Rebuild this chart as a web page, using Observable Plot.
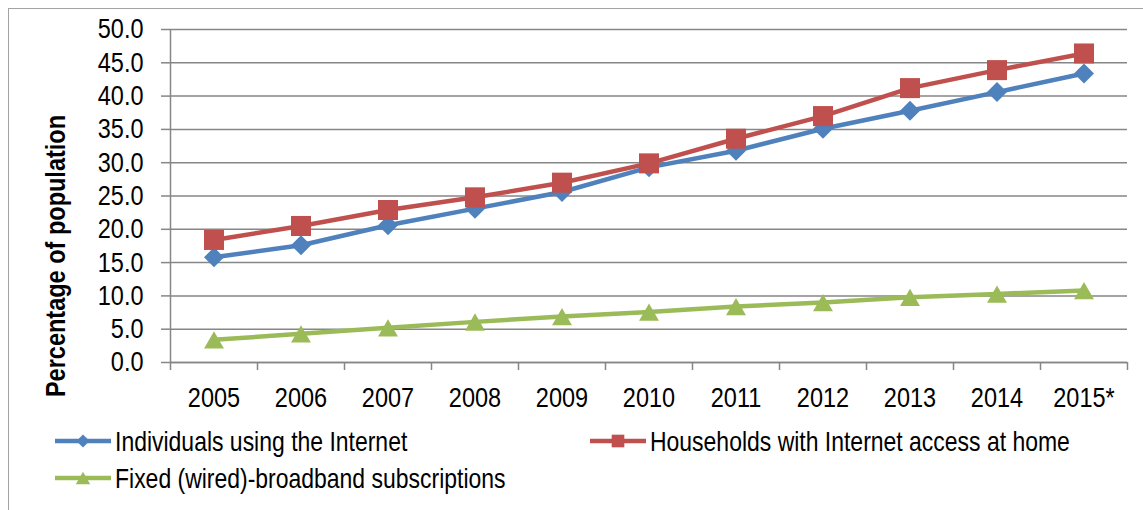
<!DOCTYPE html>
<html>
<head>
<meta charset="utf-8">
<script src="https://cdn.jsdelivr.net/npm/d3@7"></script>
<script src="https://cdn.jsdelivr.net/npm/@observablehq/plot@0.6"></script>
<style>
  html, body { margin: 0; padding: 0; background: #fff; overflow: hidden; }
  #wrap { position: relative; width: 1143px; height: 510px; font-family: "Liberation Sans", Arial, sans-serif; }
  #frame { position: absolute; left: 8px; top: 8px; width: 1300px; height: 700px; border: 1.5px solid #a3a3a3; pointer-events: none; }
  .leg { position: absolute; display: flex; align-items: center; font-size: 28px; color: #000; white-space: nowrap; }
  .leg svg { display: block; margin-right: 4px; flex: none; }
  .leg span { display: inline-block; transform: scaleX(0.82); transform-origin: left center; }
</style>
</head>
<body>
<div id="wrap">
  <div id="chart"></div>
  <div id="legend"></div>
  <div id="frame"></div>
</div>
<script>
const years = ["2005", "2006", "2007", "2008", "2009", "2010", "2011", "2012", "2013", "2014", "2015*"];
const individuals = [15.8, 17.6, 20.6, 23.1, 25.6, 29.3, 31.8, 35.1, 37.8, 40.6, 43.4];
const households = [18.4, 20.5, 22.9, 24.8, 27.0, 29.9, 33.6, 37.0, 41.2, 43.9, 46.4];
const broadband = [3.4, 4.3, 5.2, 6.1, 6.9, 7.6, 8.4, 9.0, 9.8, 10.3, 10.8];
const yTicks = [0, 5, 10, 15, 20, 25, 30, 35, 40, 45, 50];
const seriesNames = ["Individuals using the Internet", "Households with Internet access at home", "Fixed (wired)-broadband subscriptions"];
const seriesColors = ["#4f81bd", "#c0504d", "#9bbb59"];

const FONT = "'Liberation Sans', Arial, sans-serif";
const FS = 28;
const SQUEEZE = 0.84;
const idx = years.map((d, i) => i);
const rows = (vals) => vals.map((v, i) => ({i, v}));
const gray = "#868686";

const series = [
  {data: rows(individuals), color: seriesColors[0], symbol: "diamond2", r: 9, dy: 0},
  {data: rows(households), color: seriesColors[1], symbol: "square", r: 11.3, dy: 0},
  {data: rows(broadband), color: seriesColors[2], symbol: "triangle", r: 7.4, dy: 3}
];

const seriesMarks = series.flatMap(s => [
  Plot.line(s.data, {x: "i", y: "v", stroke: s.color, strokeWidth: 4.5}),
  Plot.dot(s.data, {x: "i", y: "v", symbol: s.symbol, r: s.r, fill: s.color, stroke: "none", dy: s.dy})
]);

const chart = Plot.plot({
  width: 1143,
  height: 420,
  marginLeft: 170,
  marginRight: 16,
  marginTop: 29,
  marginBottom: 58,
  x: {type: "linear", domain: [-0.5, years.length - 0.5]},
  y: {domain: [0, 50]},
  style: {fontFamily: FONT, fontSize: FS + "px", color: "#000", background: "transparent", overflow: "visible"},
  marks: [
    Plot.gridY(yTicks, {stroke: gray, strokeOpacity: 1, strokeWidth: 1.5}),
    Plot.axisY(yTicks, {tickSize: 9, tickPadding: 18, tickFormat: d => d.toFixed(1), stroke: gray, strokeWidth: 1.5, label: null, fontSize: FS}),
    Plot.axisX(idx, {tickSize: 0, tickPadding: 25, tickFormat: i => years[i], label: null, fontSize: FS}),
    Plot.ruleX(d3.range(years.length + 1).map(i => i - 0.5), {y1: 0, y2: -1.2, stroke: gray, strokeWidth: 1.5}),
    Plot.ruleX([-0.5], {y1: 0, y2: 50, stroke: gray, strokeWidth: 1.5}),
    Plot.ruleY([0], {stroke: gray, strokeWidth: 1.5}),
    ...seriesMarks
  ]
});

// emulate a condensed face: squeeze each axis label horizontally about its anchor
const num = (s) => {
  if (s == null) return 0;
  const v = parseFloat(s);
  if (!isFinite(v)) return 0;
  return /em$/.test(String(s).trim()) ? v * FS : v;
};
d3.select(chart).selectAll("text").each(function() {
  const ax = num(this.getAttribute("x")) + num(this.getAttribute("dx"));
  const t = this.getAttribute("transform") || "";
  this.setAttribute("transform", `${t} translate(${ax},0) scale(${SQUEEZE},1) translate(${-ax},0)`.trim());
});

// y-axis title
d3.select(chart).append("text")
  .attr("transform", `translate(65,256) rotate(-90) scale(${SQUEEZE},1)`)
  .attr("text-anchor", "middle")
  .attr("font-family", FONT)
  .attr("font-weight", "bold")
  .attr("font-size", FS)
  .attr("fill", "#000")
  .text("Percentage of population");

document.getElementById("chart").appendChild(chart);

// legend
const legendPos = [{left: 55, top: 442}, {left: 590, top: 442}, {left: 55, top: 479}];
const legend = d3.select("#legend");
seriesNames.forEach((name, k) => {
  const item = legend.append("div").attr("class", "leg")
    .style("left", legendPos[k].left + "px")
    .style("top", (legendPos[k].top - 17) + "px")
    .style("height", "34px");
  const svg = item.append("svg").attr("width", 56).attr("height", 34);
  svg.append("line").attr("x1", 0).attr("x2", 56).attr("y1", 16).attr("y2", 16)
    .attr("stroke", seriesColors[k]).attr("stroke-width", 4.5);
  const sym = [d3.symbolDiamond2, d3.symbolSquare, d3.symbolTriangle][k];
  const size = [110, 160, 90][k];
  svg.append("path").attr("d", d3.symbol(sym, size)())
    .attr("transform", `translate(28,${k === 2 ? 18 : 16})`)
    .attr("fill", seriesColors[k]);
  item.append("span").text(name);
});
</script>
</body>
</html>
